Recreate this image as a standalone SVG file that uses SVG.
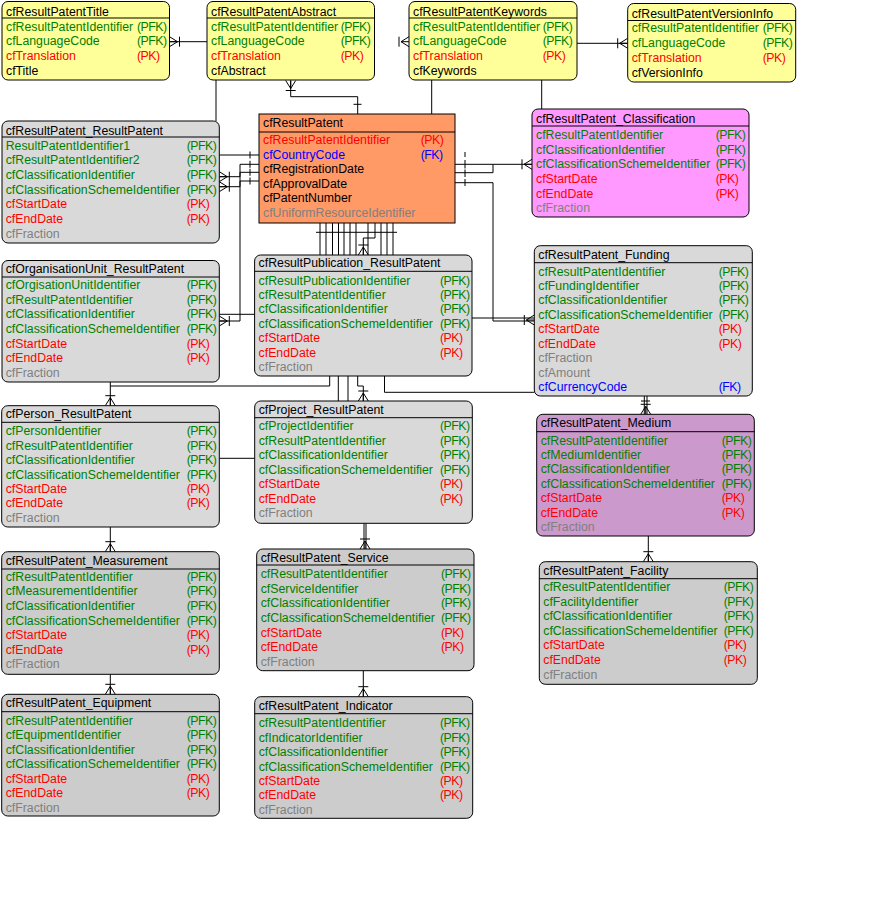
<svg xmlns="http://www.w3.org/2000/svg" xmlns:xlink="http://www.w3.org/1999/xlink" width="879" height="910" viewBox="0 0 879 910">
<style>
.n rect{stroke:#000;stroke-width:1}
.n line{stroke:#000;stroke-width:1}
.yl{fill:#ffff99}.or{fill:#ff9966}.pk{fill:#ff99ff}.pu{fill:#cc99cc}.g1{fill:#d9d9d9}.g2{fill:#cccccc}
text{font-family:"Liberation Sans",Arial,sans-serif;font-size:12.3px;fill:#000}
text.k{fill:#008000}text.p{fill:#ff0000}text.f{fill:#0000ff}text.a{fill:#808080}
text.c{letter-spacing:-0.5px}
#connectors path,#connectors line{stroke:#000;stroke-width:1;fill:none}
.cf{stroke:#000;stroke-width:1;fill:none}
</style>
<defs>
<path id="cfD" class="cf" d="M-5,-10H5M-5,0L0,-8L5,0M0,-8V0"/>
<path id="cfU" class="cf" d="M-5,10H5M-5,0L0,8L5,0M0,8V0"/>
<path id="cfL" class="cf" d="M10,-5V5M0,-5L8,0L0,5M8,0H0"/>
<path id="cfR" class="cf" d="M-10,-5V5M0,-5L-8,0L0,5M-8,0H0"/>
</defs>
<rect width="879" height="910" fill="#fff"/>
<g id="connectors">
<path d="M169.5,41.7H207"/>
<use xlink:href="#cfL" x="169.5" y="41.7"/>
<path d="M290.7,80.5V96.7H357.7V114M353.5,104.3H361.5"/>
<use xlink:href="#cfU" x="290.7" y="80.5"/>
<path d="M216,80V121"/>
<path d="M431.7,80V114"/>
<path d="M541.7,80V109"/>
<use xlink:href="#cfR" x="409" y="41.7"/>
<path d="M577,43.3H627.7"/>
<use xlink:href="#cfR" x="627.7" y="43.3"/>
<path d="M219.3,155H259"/>
<path d="M259,164.3H240V321H219.3"/>
<path d="M259,172.3H240V176.7H219.3"/>
<path d="M259,181H240V186.7H219.3"/>
<path d="M250,151.5V158.5M250,160.8V167.8M250,168.8V175.8M250,177.5V184.5"/>
<use xlink:href="#cfL" x="219.3" y="176.7"/>
<use xlink:href="#cfL" x="219.3" y="186.7"/>
<use xlink:href="#cfL" x="219.3" y="321"/>
<path d="M455,164.3H532"/>
<path d="M455,172.7H493V164.3"/>
<path d="M455,182.7H493V321H534.3"/>
<path d="M465,152V157M465,160V168.5M465,169.5V177M465,179V186"/>
<use xlink:href="#cfR" x="532" y="164.3"/>
<path d="M472,318H534.3"/>
<use xlink:href="#cfR" x="534.3" y="320"/>
<path d="M219.3,314.3H254.6"/>
<path d="M320,223V255M326,223V255M332.5,223V255M338.5,223V255M344,223V255M350,223V255M356,223V255M368,223V255M381,223V255M387,223V255M393,223V255"/>
<path d="M375,223V238H363.3V255"/>
<path d="M316,232.3H397"/>
<use xlink:href="#cfD" x="363.3" y="255"/>
<path d="M110.3,382V405.7M110.3,386H329.7V376"/>
<use xlink:href="#cfD" x="110.3" y="405.7"/>
<path d="M338.3,376V401M348,376V401"/>
<path d="M357.7,376V386H363.3V401"/>
<use xlink:href="#cfD" x="363.3" y="401"/>
<path d="M384.5,376V392.3H534.3"/>
<path d="M219.3,458.3H254.7"/>
<path d="M364,523.3V549M366,523.3V549"/>
<use xlink:href="#cfD" x="365" y="549"/>
<path d="M110.3,527V551.7"/>
<use xlink:href="#cfD" x="110.3" y="551.7"/>
<path d="M110.3,674.3V694.3"/>
<use xlink:href="#cfD" x="110.3" y="694.3"/>
<path d="M363.3,670.7V696.7"/>
<use xlink:href="#cfD" x="363.3" y="696.7"/>
<path d="M644.3,396V414.3M647,396V414.3M641,401H650"/>
<use xlink:href="#cfD" x="645.7" y="414.3"/>
<path d="M648.3,536V561.7"/>
<use xlink:href="#cfD" x="648.3" y="561.7"/>
</g>

<g id="cfResultPatentTitle" class="n">
<rect class="yl" x="2" y="1.5" width="167.5" height="78.5" rx="6"/>
<line x1="2" y1="18" x2="169.5" y2="18"/>
<text x="6" y="15.5">cfResultPatentTitle</text>
<text class="k" x="6" y="30.5">cfResultPatentIdentifier</text><text class="k c" x="137" y="30.5">(PFK)</text>
<text class="k" x="6" y="45.3">cfLanguageCode</text><text class="k c" x="137" y="45.3">(PFK)</text>
<text class="p" x="6" y="60">cfTranslation</text><text class="p c" x="137" y="60">(PK)</text>
<text x="6" y="74.7">cfTitle</text>
</g>

<g id="cfResultPatentAbstract" class="n">
<rect class="yl" x="207" y="1.5" width="167.5" height="78.5" rx="6"/>
<line x1="207" y1="18" x2="374.5" y2="18"/>
<text x="211" y="15.5">cfResultPatentAbstract</text>
<text class="k" x="211" y="30.5">cfResultPatentIdentifier</text><text class="k c" x="340.7" y="30.5">(PFK)</text>
<text class="k" x="211" y="45.3">cfLanguageCode</text><text class="k c" x="340.7" y="45.3">(PFK)</text>
<text class="p" x="211" y="60">cfTranslation</text><text class="p c" x="340.7" y="60">(PK)</text>
<text x="211" y="74.7">cfAbstract</text>
</g>

<g id="cfResultPatentKeywords" class="n">
<rect class="yl" x="409" y="1.5" width="168" height="78.5" rx="6"/>
<line x1="409" y1="18" x2="577" y2="18"/>
<text x="413" y="15.5">cfResultPatentKeywords</text>
<text class="k" x="413" y="30.5">cfResultPatentIdentifier</text><text class="k c" x="542.7" y="30.5">(PFK)</text>
<text class="k" x="413" y="45.3">cfLanguageCode</text><text class="k c" x="542.7" y="45.3">(PFK)</text>
<text class="p" x="413" y="60">cfTranslation</text><text class="p c" x="542.7" y="60">(PK)</text>
<text x="413" y="74.7">cfKeywords</text>
</g>

<g id="cfResultPatentVersionInfo" class="n">
<rect class="yl" x="627.7" y="3.5" width="168" height="78.5" rx="6"/>
<line x1="627.7" y1="20.5" x2="795.7" y2="20.5"/>
<text x="631.7" y="17.5">cfResultPatentVersionInfo</text>
<text class="k" x="631.7" y="32">cfResultPatentIdentifier</text><text class="k c" x="762.7" y="32">(PFK)</text>
<text class="k" x="631.7" y="47">cfLanguageCode</text><text class="k c" x="762.7" y="47">(PFK)</text>
<text class="p" x="631.7" y="61.7">cfTranslation</text><text class="p c" x="762.7" y="61.7">(PK)</text>
<text x="631.7" y="76.5">cfVersionInfo</text>
</g>

<g id="cfResultPatent" class="n">
<rect class="or" x="259" y="114" width="196" height="109"/>
<line x1="259" y1="132" x2="455" y2="132"/>
<text x="263" y="127.2">cfResultPatent</text>
<text class="p" x="263" y="144.2">cfResultPatentIdentifier</text><text class="p c" x="420.7" y="144.2">(PK)</text>
<text class="f" x="263" y="158.7">cfCountryCode</text><text class="f c" x="420.7" y="158.7">(FK)</text>
<text x="263" y="173.2">cfRegistrationDate</text>
<text x="263" y="187.7">cfApprovalDate</text>
<text x="263" y="202.2">cfPatentNumber</text>
<text class="a" x="263" y="216.7">cfUniformResourceIdentifier</text>
</g>

<g id="cfResultPatent_ResultPatent" class="n">
<rect class="g1" x="2" y="121" width="217.3" height="122" rx="6"/>
<line x1="2" y1="137" x2="219.3" y2="137"/>
<text x="5.7" y="134.5">cfResultPatent_ResultPatent</text>
<text class="k" x="5.7" y="149.5">ResultPatentIdentifier1</text><text class="k c" x="186.7" y="149.5">(PFK)</text>
<text class="k" x="5.7" y="164.2">cfResultPatentIdentifier2</text><text class="k c" x="186.7" y="164.2">(PFK)</text>
<text class="k" x="5.7" y="178.8">cfClassificationIdentifier</text><text class="k c" x="186.7" y="178.8">(PFK)</text>
<text class="k" x="5.7" y="193.5">cfClassificationSchemeIdentifier</text><text class="k c" x="186.7" y="193.5">(PFK)</text>
<text class="p" x="5.7" y="208.2">cfStartDate</text><text class="p c" x="186.7" y="208.2">(PK)</text>
<text class="p" x="5.7" y="222.8">cfEndDate</text><text class="p c" x="186.7" y="222.8">(PK)</text>
<text class="a" x="5.7" y="237.5">cfFraction</text>
</g>

<g id="cfResultPatent_Classification" class="n">
<rect class="pk" x="532" y="109" width="217" height="108" rx="6"/>
<line x1="532" y1="126" x2="749" y2="126"/>
<text x="536" y="122.8">cfResultPatent_Classification</text>
<text class="k" x="536" y="139.2">cfResultPatentIdentifier</text><text class="k c" x="715.7" y="139.2">(PFK)</text>
<text class="k" x="536" y="153.8">cfClassificationIdentifier</text><text class="k c" x="715.7" y="153.8">(PFK)</text>
<text class="k" x="536" y="168.4">cfClassificationSchemeIdentifier</text><text class="k c" x="715.7" y="168.4">(PFK)</text>
<text class="p" x="536" y="183">cfStartDate</text><text class="p c" x="715.7" y="183">(PK)</text>
<text class="p" x="536" y="197.6">cfEndDate</text><text class="p c" x="715.7" y="197.6">(PK)</text>
<text class="a" x="536" y="212.2">cfFraction</text>
</g>

<g id="cfOrganisationUnit_ResultPatent" class="n">
<rect class="g1" x="2" y="260.5" width="217.3" height="121.5" rx="6"/>
<line x1="2" y1="277" x2="219.3" y2="277"/>
<text x="5.7" y="272.8">cfOrganisationUnit_ResultPatent</text>
<text class="k" x="5.7" y="288.8">cfOrgisationUnitIdentifier</text><text class="k c" x="186.7" y="288.8">(PFK)</text>
<text class="k" x="5.7" y="303.5">cfResultPatentIdentifier</text><text class="k c" x="186.7" y="303.5">(PFK)</text>
<text class="k" x="5.7" y="318.2">cfClassificationIdentifier</text><text class="k c" x="186.7" y="318.2">(PFK)</text>
<text class="k" x="5.7" y="332.9">cfClassificationSchemeIdentifier</text><text class="k c" x="186.7" y="332.9">(PFK)</text>
<text class="p" x="5.7" y="347.6">cfStartDate</text><text class="p c" x="186.7" y="347.6">(PK)</text>
<text class="p" x="5.7" y="362.3">cfEndDate</text><text class="p c" x="186.7" y="362.3">(PK)</text>
<text class="a" x="5.7" y="377">cfFraction</text>
</g>

<g id="cfResultPublication_ResultPatent" class="n">
<rect class="g1" x="254.6" y="255" width="217.4" height="121" rx="6"/>
<line x1="254.6" y1="271.3" x2="472" y2="271.3"/>
<text x="258.6" y="267.2">cfResultPublication_ResultPatent</text>
<text class="k" x="258.6" y="284.5">cfResultPublicationIdentifier</text><text class="k c" x="440" y="284.5">(PFK)</text>
<text class="k" x="258.6" y="298.9">cfResultPatentIdentifier</text><text class="k c" x="440" y="298.9">(PFK)</text>
<text class="k" x="258.6" y="313.4">cfClassificationIdentifier</text><text class="k c" x="440" y="313.4">(PFK)</text>
<text class="k" x="258.6" y="327.8">cfClassificationSchemeIdentifier</text><text class="k c" x="440" y="327.8">(PFK)</text>
<text class="p" x="258.6" y="342.3">cfStartDate</text><text class="p c" x="440" y="342.3">(PK)</text>
<text class="p" x="258.6" y="356.7">cfEndDate</text><text class="p c" x="440" y="356.7">(PK)</text>
<text class="a" x="258.6" y="371.2">cfFraction</text>
</g>

<g id="cfResultPatent_Funding" class="n">
<rect class="g1" x="534.3" y="245.7" width="218" height="150.3" rx="6"/>
<line x1="534.3" y1="262.7" x2="752.3" y2="262.7"/>
<text x="538.3" y="258.5">cfResultPatent_Funding</text>
<text class="k" x="538.3" y="275.5">cfResultPatentIdentifier</text><text class="k c" x="718.7" y="275.5">(PFK)</text>
<text class="k" x="538.3" y="290">cfFundingIdentifier</text><text class="k c" x="718.7" y="290">(PFK)</text>
<text class="k" x="538.3" y="304.4">cfClassificationIdentifier</text><text class="k c" x="718.7" y="304.4">(PFK)</text>
<text class="k" x="538.3" y="318.9">cfClassificationSchemeIdentifier</text><text class="k c" x="718.7" y="318.9">(PFK)</text>
<text class="p" x="538.3" y="333.3">cfStartDate</text><text class="p c" x="718.7" y="333.3">(PK)</text>
<text class="p" x="538.3" y="347.8">cfEndDate</text><text class="p c" x="718.7" y="347.8">(PK)</text>
<text class="a" x="538.3" y="362.2">cfFraction</text>
<text class="a" x="538.3" y="376.7">cfAmount</text>
<text class="f" x="538.3" y="391.2">cfCurrencyCode</text><text class="f c" x="718.7" y="391.2">(FK)</text>
</g>

<g id="cfResultPatent_Medium" class="n">
<rect class="pu" x="536.7" y="414.3" width="217.6" height="121.7" rx="6"/>
<line x1="536.7" y1="431.7" x2="754.3" y2="431.7"/>
<text x="540.7" y="427.2">cfResultPatent_Medium</text>
<text class="k" x="540.7" y="444.5">cfResultPatentIdentifier</text><text class="k c" x="721.7" y="444.5">(PFK)</text>
<text class="k" x="540.7" y="458.9">cfMediumIdentifier</text><text class="k c" x="721.7" y="458.9">(PFK)</text>
<text class="k" x="540.7" y="473.4">cfClassificationIdentifier</text><text class="k c" x="721.7" y="473.4">(PFK)</text>
<text class="k" x="540.7" y="487.8">cfClassificationSchemeIdentifier</text><text class="k c" x="721.7" y="487.8">(PFK)</text>
<text class="p" x="540.7" y="502.3">cfStartDate</text><text class="p c" x="721.7" y="502.3">(PK)</text>
<text class="p" x="540.7" y="516.7">cfEndDate</text><text class="p c" x="721.7" y="516.7">(PK)</text>
<text class="a" x="540.7" y="531.2">cfFraction</text>
</g>

<g id="cfPerson_ResultPatent" class="n">
<rect class="g1" x="1.7" y="405.7" width="217.6" height="121.3" rx="6"/>
<line x1="1.7" y1="422.3" x2="219.3" y2="422.3"/>
<text x="5.7" y="417.8">cfPerson_ResultPatent</text>
<text class="k" x="5.7" y="435.2">cfPersonIdentifier</text><text class="k c" x="186.7" y="435.2">(PFK)</text>
<text class="k" x="5.7" y="449.6">cfResultPatentIdentifier</text><text class="k c" x="186.7" y="449.6">(PFK)</text>
<text class="k" x="5.7" y="464.1">cfClassificationIdentifier</text><text class="k c" x="186.7" y="464.1">(PFK)</text>
<text class="k" x="5.7" y="478.5">cfClassificationSchemeIdentifier</text><text class="k c" x="186.7" y="478.5">(PFK)</text>
<text class="p" x="5.7" y="492.9">cfStartDate</text><text class="p c" x="186.7" y="492.9">(PK)</text>
<text class="p" x="5.7" y="507.4">cfEndDate</text><text class="p c" x="186.7" y="507.4">(PK)</text>
<text class="a" x="5.7" y="521.8">cfFraction</text>
</g>

<g id="cfProject_ResultPatent" class="n">
<rect class="g1" x="254.7" y="401" width="217.6" height="122.3" rx="6"/>
<line x1="254.7" y1="417.7" x2="472.3" y2="417.7"/>
<text x="258.7" y="414.2">cfProject_ResultPatent</text>
<text class="k" x="258.7" y="430.2">cfProjectIdentifier</text><text class="k c" x="440" y="430.2">(PFK)</text>
<text class="k" x="258.7" y="444.7">cfResultPatentIdentifier</text><text class="k c" x="440" y="444.7">(PFK)</text>
<text class="k" x="258.7" y="459.2">cfClassificationIdentifier</text><text class="k c" x="440" y="459.2">(PFK)</text>
<text class="k" x="258.7" y="473.7">cfClassificationSchemeIdentifier</text><text class="k c" x="440" y="473.7">(PFK)</text>
<text class="p" x="258.7" y="488.2">cfStartDate</text><text class="p c" x="440" y="488.2">(PK)</text>
<text class="p" x="258.7" y="502.7">cfEndDate</text><text class="p c" x="440" y="502.7">(PK)</text>
<text class="a" x="258.7" y="517.2">cfFraction</text>
</g>

<g id="cfResultPatent_Measurement" class="n">
<rect class="g2" x="1.7" y="551.7" width="217.6" height="122.6" rx="6"/>
<line x1="1.7" y1="569" x2="219.3" y2="569"/>
<text x="5.7" y="565.2">cfResultPatent_Measurement</text>
<text class="k" x="5.7" y="580.8">cfResultPatentIdentifier</text><text class="k c" x="186.7" y="580.8">(PFK)</text>
<text class="k" x="5.7" y="595.4">cfMeasurementIdentifier</text><text class="k c" x="186.7" y="595.4">(PFK)</text>
<text class="k" x="5.7" y="610">cfClassificationIdentifier</text><text class="k c" x="186.7" y="610">(PFK)</text>
<text class="k" x="5.7" y="624.5">cfClassificationSchemeIdentifier</text><text class="k c" x="186.7" y="624.5">(PFK)</text>
<text class="p" x="5.7" y="639.1">cfStartDate</text><text class="p c" x="186.7" y="639.1">(PK)</text>
<text class="p" x="5.7" y="653.7">cfEndDate</text><text class="p c" x="186.7" y="653.7">(PK)</text>
<text class="a" x="5.7" y="668.3">cfFraction</text>
</g>

<g id="cfResultPatent_Service" class="n">
<rect class="g2" x="256.7" y="549" width="217.3" height="121.7" rx="6"/>
<line x1="256.7" y1="565" x2="474" y2="565"/>
<text x="260.7" y="561.8">cfResultPatent_Service</text>
<text class="k" x="260.7" y="578.2">cfResultPatentIdentifier</text><text class="k c" x="441" y="578.2">(PFK)</text>
<text class="k" x="260.7" y="592.8">cfServiceIdentifier</text><text class="k c" x="441" y="592.8">(PFK)</text>
<text class="k" x="260.7" y="607.4">cfClassificationIdentifier</text><text class="k c" x="441" y="607.4">(PFK)</text>
<text class="k" x="260.7" y="622">cfClassificationSchemeIdentifier</text><text class="k c" x="441" y="622">(PFK)</text>
<text class="p" x="260.7" y="636.6">cfStartDate</text><text class="p c" x="441" y="636.6">(PK)</text>
<text class="p" x="260.7" y="651.2">cfEndDate</text><text class="p c" x="441" y="651.2">(PK)</text>
<text class="a" x="260.7" y="665.8">cfFraction</text>
</g>

<g id="cfResultPatent_Equipment" class="n">
<rect class="g2" x="1.7" y="694.3" width="217.6" height="121.7" rx="6"/>
<line x1="1.7" y1="711.7" x2="219.3" y2="711.7"/>
<text x="5.7" y="707.2">cfResultPatent_Equipment</text>
<text class="k" x="5.7" y="724.5">cfResultPatentIdentifier</text><text class="k c" x="186.7" y="724.5">(PFK)</text>
<text class="k" x="5.7" y="739">cfEquipmentIdentifier</text><text class="k c" x="186.7" y="739">(PFK)</text>
<text class="k" x="5.7" y="753.5">cfClassificationIdentifier</text><text class="k c" x="186.7" y="753.5">(PFK)</text>
<text class="k" x="5.7" y="768">cfClassificationSchemeIdentifier</text><text class="k c" x="186.7" y="768">(PFK)</text>
<text class="p" x="5.7" y="782.5">cfStartDate</text><text class="p c" x="186.7" y="782.5">(PK)</text>
<text class="p" x="5.7" y="797">cfEndDate</text><text class="p c" x="186.7" y="797">(PK)</text>
<text class="a" x="5.7" y="811.5">cfFraction</text>
</g>

<g id="cfResultPatent_Indicator" class="n">
<rect class="g2" x="254.7" y="696.7" width="218" height="121.6" rx="6"/>
<line x1="254.7" y1="713.7" x2="472.7" y2="713.7"/>
<text x="258.7" y="710.2">cfResultPatent_Indicator</text>
<text class="k" x="258.7" y="727.2">cfResultPatentIdentifier</text><text class="k c" x="440" y="727.2">(PFK)</text>
<text class="k" x="258.7" y="741.6">cfIndicatorIdentifier</text><text class="k c" x="440" y="741.6">(PFK)</text>
<text class="k" x="258.7" y="756.1">cfClassificationIdentifier</text><text class="k c" x="440" y="756.1">(PFK)</text>
<text class="k" x="258.7" y="770.5">cfClassificationSchemeIdentifier</text><text class="k c" x="440" y="770.5">(PFK)</text>
<text class="p" x="258.7" y="784.9">cfStartDate</text><text class="p c" x="440" y="784.9">(PK)</text>
<text class="p" x="258.7" y="799.4">cfEndDate</text><text class="p c" x="440" y="799.4">(PK)</text>
<text class="a" x="258.7" y="813.8">cfFraction</text>
</g>

<g id="cfResultPatent_Facility" class="n">
<rect class="g2" x="539.3" y="561.7" width="218" height="122.6" rx="6"/>
<line x1="539.3" y1="578.7" x2="757.3" y2="578.7"/>
<text x="543.3" y="575.2">cfResultPatent_Facility</text>
<text class="k" x="543.3" y="591.2">cfResultPatentIdentifier</text><text class="k c" x="723.7" y="591.2">(PFK)</text>
<text class="k" x="543.3" y="605.8">cfFacilityIdentifier</text><text class="k c" x="723.7" y="605.8">(PFK)</text>
<text class="k" x="543.3" y="620.3">cfClassificationIdentifier</text><text class="k c" x="723.7" y="620.3">(PFK)</text>
<text class="k" x="543.3" y="634.9">cfClassificationSchemeIdentifier</text><text class="k c" x="723.7" y="634.9">(PFK)</text>
<text class="p" x="543.3" y="649.4">cfStartDate</text><text class="p c" x="723.7" y="649.4">(PK)</text>
<text class="p" x="543.3" y="664">cfEndDate</text><text class="p c" x="723.7" y="664">(PK)</text>
<text class="a" x="543.3" y="678.5">cfFraction</text>
</g>
</svg>
